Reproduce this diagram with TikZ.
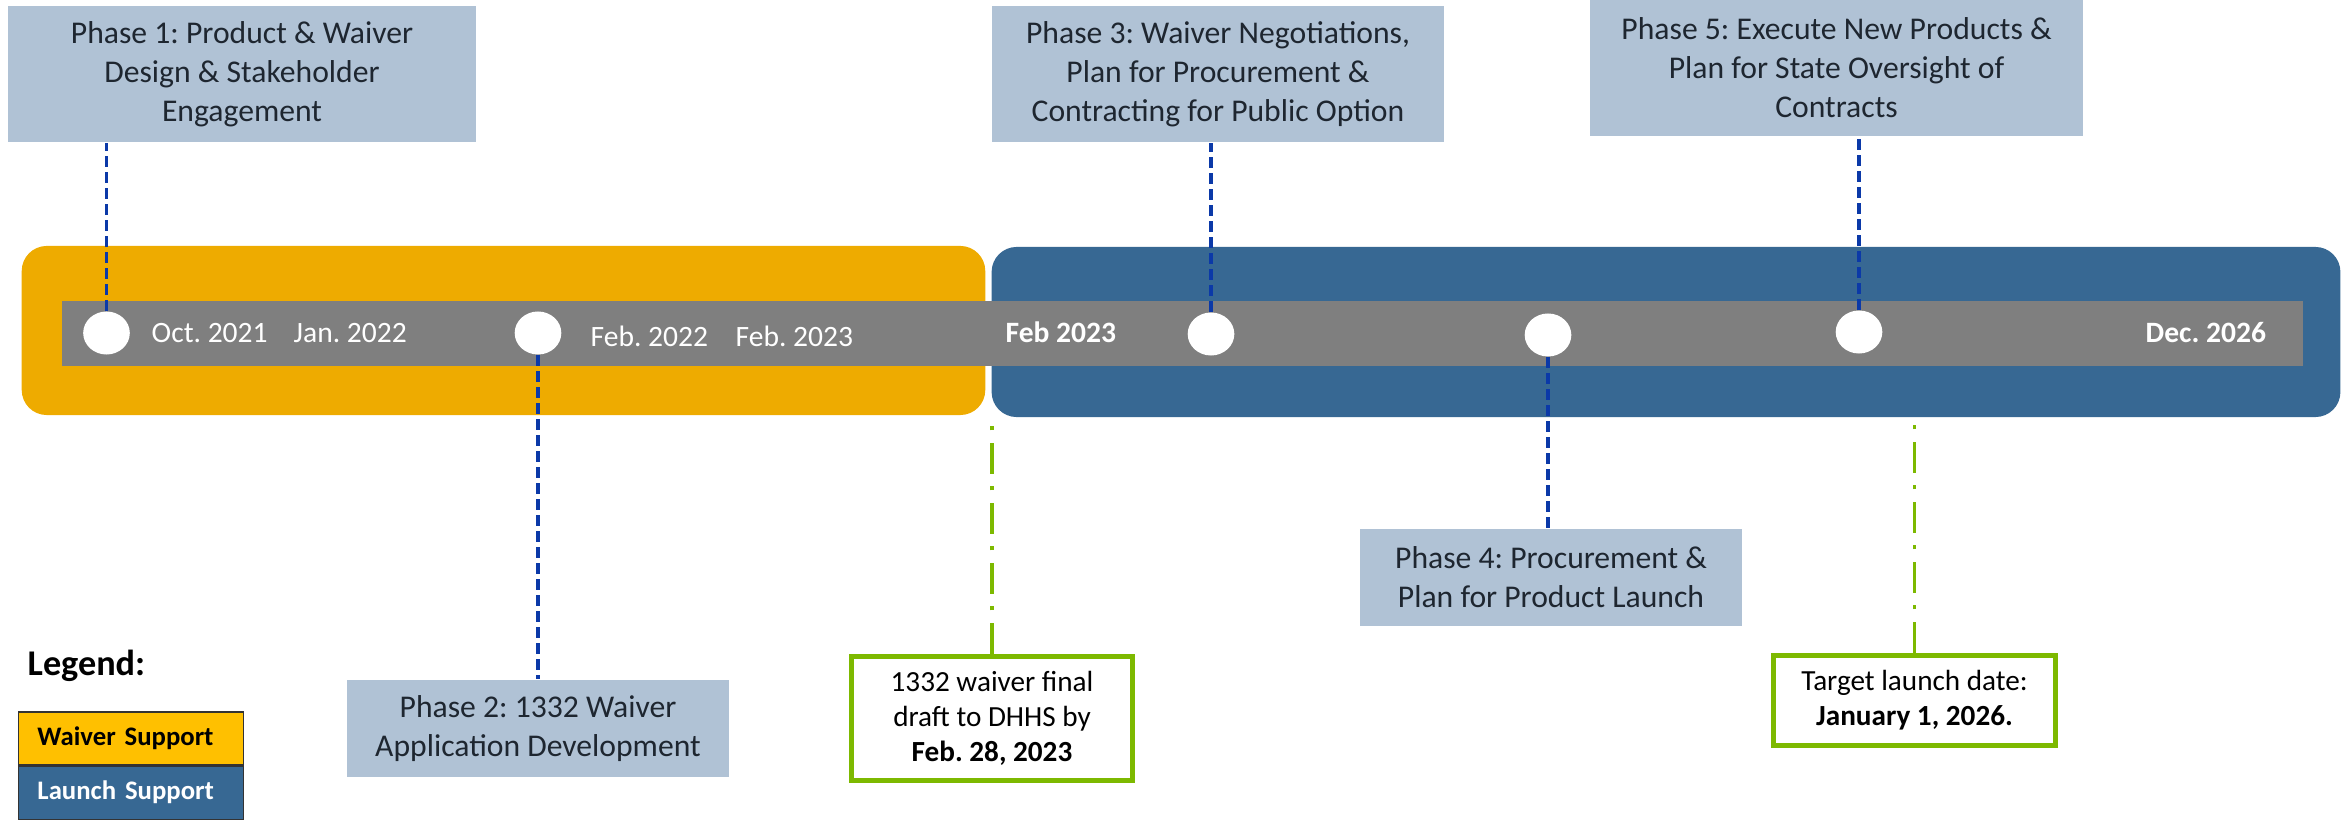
\documentclass[tikz,border=0pt]{standalone}
\usepackage{fontspec}
\setmainfont{Carlito}
\frenchspacing
\usetikzlibrary{positioning,shapes.geometric}
\definecolor{tlGold}{HTML}{EEAB00}
\definecolor{tlGoldLight}{HTML}{FFC000}
\definecolor{tlNavy}{HTML}{376893}
\definecolor{tlGray}{HTML}{7F7F7F}
\definecolor{tlSteel}{HTML}{B0C2D5}
\definecolor{tlDash}{HTML}{0B39A8}
\definecolor{tlGreen}{HTML}{7DB900}
\definecolor{tlInk}{HTML}{1E2630}

\begin{document}
\begin{tikzpicture}[x=0.01cm,y=-0.01cm,
    band/.style={rounded corners=0.25cm, inner sep=0pt},
    phase/.style={fill=tlSteel, text=tlInk, align=center, inner sep=0pt,
      font=\fontsize{9}{11.1}\selectfont},
    milebox/.style={draw=tlGreen, line width=1.42pt, fill=white, align=center,
      inner sep=0pt, font=\fontsize{8.3}{10}\selectfont},
    dot/.style={ellipse, fill=white, inner sep=0pt, minimum width=0.466cm, minimum height=0.43cm},
    datelbl/.style={text=white, anchor=base west, inner sep=0pt, font=\fontsize{8.4}{10}\selectfont},
    phaselink/.style={tlDash, line width=0.95pt, dash pattern=on 0.11cm off 0.05cm},
    milelink/.style={tlGreen, line width=1.1pt, dash pattern=on 0.31cm off 0.125cm on 0.04cm off 0.125cm},
    legbox/.style={draw=black!80, line width=0.3pt, inner xsep=0.19cm, inner ysep=0pt,
      text width=1.87cm, minimum height=0.53cm, align=left,
      font=\fontsize{7.6}{9}\selectfont\bfseries}]
  \useasboundingbox (0,0) rectangle (2343,822);

  % support bands and the time bar
  \node[band, fill=tlGold, minimum width=9.63cm, minimum height=1.69cm] (waiver) at (503.5,330.5) {};
  \node[band, fill=tlNavy, minimum width=13.48cm, minimum height=1.70cm] (launch) at (1666,332) {};
  \node[fill=tlGray, inner sep=0pt, minimum width=22.39cm, minimum height=0.65cm] (bar) at (1182.5,333.5) {};

  % milestones on the bar
  \foreach \n/\x/\y in {1/106.5/333, 2/538/333, 3/1211/334, 4/1548/335, 5/1859/332}
    \node[dot] (c\n) at (\x,\y) {};

  \node[datelbl] (d1) at (151,343) {Oct. 2021};
  \node[datelbl] (d2) at (293,343) {Jan. 2022};
  \node[datelbl] (d3) at (590,347) {Feb. 2022};
  \node[datelbl] (d4) at (735,347) {Feb. 2023};
  \node[datelbl, font=\fontsize{8.4}{10}\selectfont\bfseries] (d5) at (1005,343) {Feb 2023};
  \node[datelbl, font=\fontsize{8.4}{10}\selectfont\bfseries] (d6) at (2145,343) {Dec. 2026};

  % phase boxes
  \node[phase, minimum width=4.68cm, minimum height=1.36cm] (p1) at (242,74)
    {Phase 1: Product \& Waiver\\Design \& Stakeholder\\Engagement};
  \node[phase, minimum width=3.82cm, minimum height=0.97cm] (p2) at (538,728.5)
    {Phase 2: 1332 Waiver\\Application Development};
  \node[phase, minimum width=4.52cm, minimum height=1.36cm] (p3) at (1218,74)
    {Phase 3: Waiver Negotiations,\\Plan for Procurement \&\\Contracting for Public Option};
  \node[phase, minimum width=3.82cm, minimum height=0.97cm] (p4) at (1551,577.5)
    {Phase 4: Procurement \&\\Plan for Product Launch};
  \node[phase, minimum width=4.93cm, minimum height=1.36cm] (p5) at (1836.5,68)
    {Phase 5: Execute New Products \&\\Plan for State Oversight of\\Contracts};

  \draw[phaselink] (c1) -- (c1 |- p1.south);
  \draw[phaselink] (c2) -- (c2 |- p2.north);
  \draw[phaselink] (c3) -- (c3 |- p3.south);
  \draw[phaselink] (c4) -- (c4 |- p4.north);
  \draw[phaselink] (c5) -- (c5 |- p5.south);

  % deadlines
  \node[milebox, minimum width=2.81cm, minimum height=1.24cm] (g1) at (992,718.5)
    {1332 waiver final\\draft to DHHS by\\\textbf{Feb. 28, 2023}};
  \node[milebox, minimum width=2.82cm, minimum height=0.90cm] (g2) at (1914.5,700.5)
    {Target launch date:\\\textbf{January 1, 2026.}};
  \draw[milelink] (g1.north) -- (g1.north |- waiver.south);
  \draw[milelink] (g2.north) -- (g2.north |- launch.south);

  % legend
  \node[anchor=base west, inner sep=0pt, font=\fontsize{10.3}{12}\selectfont\bfseries] (leg) at (27,675) {Legend:};
  \node[legbox, fill=tlGoldLight, text=black] (legW) at (131,738.5) {Waiver Support};
  \node[legbox, fill=tlNavy, text=white, below=0pt of legW] (legL) {Launch Support};
\end{tikzpicture}
\end{document}
